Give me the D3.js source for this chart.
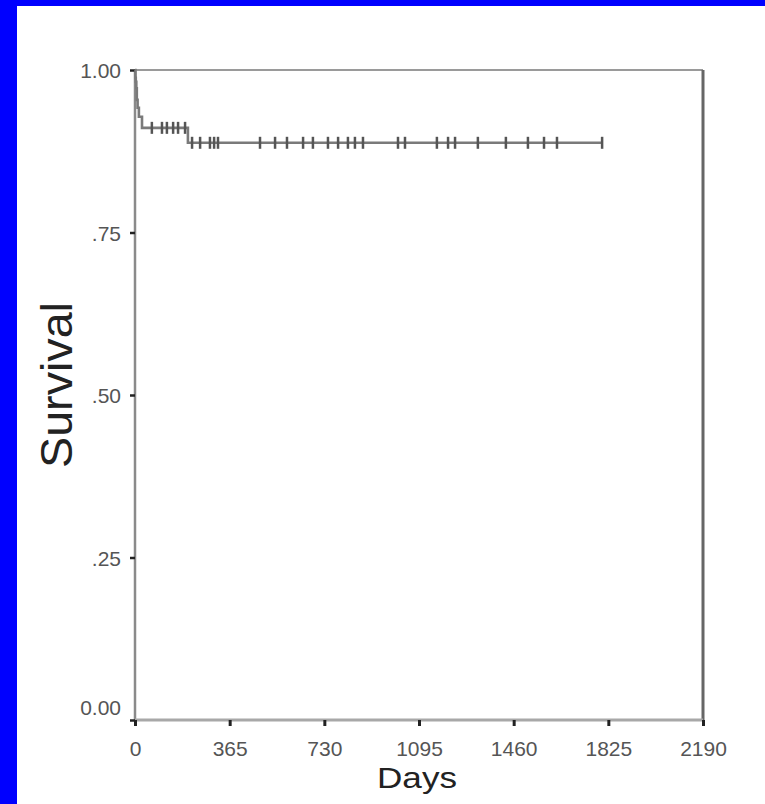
<!DOCTYPE html>
<html>
<head>
<meta charset="utf-8">
<script src="https://cdn.jsdelivr.net/npm/d3@7"></script>
<style>
  html, body { margin: 0; padding: 0; background: #fff; }
  svg { display: block; }
  text { font-family: "Liberation Sans", Arial, sans-serif; }
</style>
</head>
<body>
<script>
// ---- data ----
const xTickValues = [0, 365, 730, 1095, 1460, 1825, 2190];
const xTickLabels = ["0", "365", "730", "1095", "1460", "1825", "2190"];
const yTickValues = [0, 0.25, 0.5, 0.75, 1.0];
const yTickLabels = ["0.00", ".25", ".50", ".75", "1.00"];
// Kaplan-Meier step points (time in days, survival)
const stepDays = [0, 2, 3, 5, 7, 10, 15, 27, 204, 1801];
const stepSurv = [1.0, 0.988, 0.982, 0.972, 0.954, 0.942, 0.928, 0.911, 0.888, 0.888];
// censored observations (days)
const censorDays = [65, 104, 123, 147, 166, 193, 220, 251, 289, 305, 320,
  482, 540, 586, 648, 686, 744, 783, 821, 848, 879, 1014, 1041,
  1164, 1207, 1234, 1322, 1430, 1515, 1577, 1627, 1801];

const W = 765, H = 804;
const svg = d3.select("body").append("svg").attr("width", W).attr("height", H);

// blue frame
svg.append("rect").attr("x", 0).attr("y", 0).attr("width", W).attr("height", H).attr("fill", "#fff");
svg.append("rect").attr("x", 0).attr("y", 0).attr("width", W).attr("height", 6).attr("fill", "#0000ff");
svg.append("rect").attr("x", 0).attr("y", 0).attr("width", 17).attr("height", H).attr("fill", "#0000ff");

const x = d3.scaleLinear().domain([0, 2190]).range([135, 703]);
const y = d3.scaleLinear().domain([0, 1]).range([720, 70]);

// plot frame
svg.append("line").attr("x1", 135).attr("x2", 703).attr("y1", y(1)).attr("y2", y(1))
  .attr("stroke", "#9a9a9a").attr("stroke-width", 2);
svg.append("line").attr("x1", x(2190)).attr("x2", x(2190)).attr("y1", y(1)).attr("y2", y(0))
  .attr("stroke", "#666").attr("stroke-width", 3);
svg.append("line").attr("x1", x(0)).attr("x2", x(0)).attr("y1", y(1)).attr("y2", y(0))
  .attr("stroke", "#8a8a8a").attr("stroke-width", 2.5);
svg.append("line").attr("x1", x(0)).attr("x2", x(2190)).attr("y1", y(0)).attr("y2", y(0))
  .attr("stroke", "#a8a8a8").attr("stroke-width", 3);

// x axis
const xAxis = d3.axisBottom(x).tickValues(xTickValues)
  .tickFormat((d, i) => xTickLabels[i]).tickSize(6).tickPadding(15);
const gx = svg.append("g").attr("transform", `translate(0,${y(0)})`).call(xAxis);
gx.select(".domain").remove();
gx.selectAll(".tick line").attr("stroke", "#222").attr("stroke-width", 3);
gx.selectAll(".tick text").attr("fill", "#555").attr("font-size", 21).attr("dy", "0.71em");

// y axis
const yAxis = d3.axisLeft(y).tickValues(yTickValues)
  .tickFormat((d, i) => yTickLabels[i]).tickSize(5).tickPadding(9);
const gy = svg.append("g").attr("transform", `translate(${x(0)},0)`).call(yAxis);
gy.select(".domain").remove();
gy.selectAll(".tick line").attr("stroke", "#222").attr("stroke-width", 2.5);
gy.selectAll(".tick text").attr("fill", "#555").attr("font-size", 21)
  .attr("dy", d => d === 0 ? "-0.25em" : "0.36em");

// survival curve
const pts = stepDays.map((d, i) => [d, stepSurv[i]]);
const line = d3.line().x(d => x(d[0])).y(d => y(d[1])).curve(d3.curveStepAfter);
svg.append("path").datum(pts).attr("d", line).attr("fill", "none")
  .attr("stroke", "#7a7a7a").attr("stroke-width", 2.6);

// censor marks
function survAt(t) {
  let s = stepSurv[0];
  for (let i = 0; i < stepDays.length; i++) if (stepDays[i] <= t) s = stepSurv[i];
  return s;
}
svg.append("g").selectAll("line").data(censorDays).join("line")
  .attr("x1", d => x(d)).attr("x2", d => x(d))
  .attr("y1", d => y(survAt(d)) - 6).attr("y2", d => y(survAt(d)) + 6)
  .attr("stroke", "#555").attr("stroke-width", 2.5);

// titles
svg.append("text").attr("x", 417).attr("y", 788).attr("text-anchor", "middle")
  .attr("font-size", 30).attr("fill", "#222")
  .attr("textLength", 80).attr("lengthAdjust", "spacingAndGlyphs").text("Days");
svg.append("text").attr("transform", "translate(72,385) rotate(-90)")
  .attr("text-anchor", "middle").attr("font-size", 44).attr("fill", "#222")
  .attr("textLength", 166).attr("lengthAdjust", "spacingAndGlyphs").text("Survival");
</script>
</body>
</html>
